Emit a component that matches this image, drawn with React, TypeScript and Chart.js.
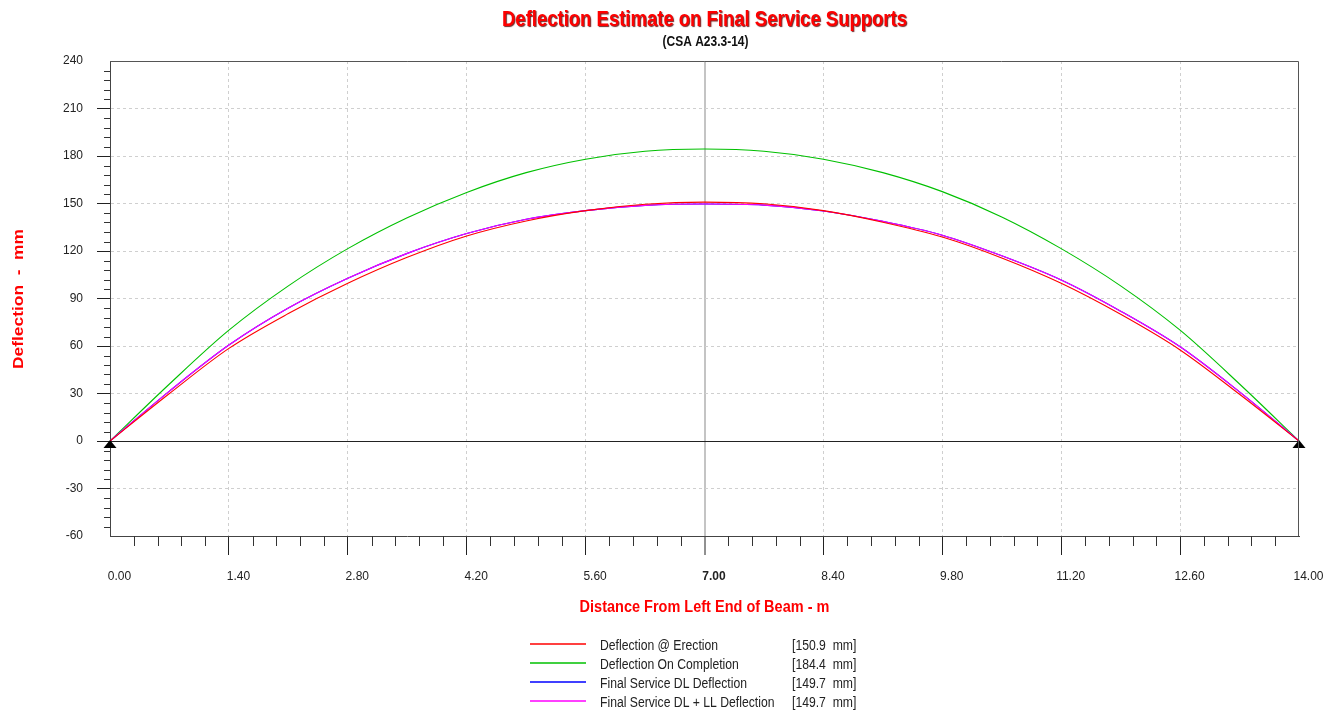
import React, { useEffect, useRef } from 'react';
import { Chart, registerables } from 'chart.js';

Chart.register(...registerables);

const FONT = '"Liberation Sans", Arial, sans-serif';

// Stations along the beam (m)
const stations = [0, 0.7, 1.4, 2.1, 2.8, 3.5, 4.2, 4.9, 5.6, 6.3, 7.0, 7.7, 8.4, 9.1, 9.8, 10.5, 11.2, 11.9, 12.6, 13.3, 14.0];

// Deflections (mm)
const erection = [0, 30, 58.5, 80.5, 99.6, 116, 129.5, 139, 145.5, 149.5, 150.9, 149.8, 145.5, 138.2, 128.8, 115.6, 99.6, 80, 57.5, 29.5, 0];
const completion = [0, 36, 70, 98, 121.5, 141, 157, 169.5, 178, 183, 184.4, 183, 178, 169.5, 157.5, 141.5, 121.5, 98, 70, 36, 0];
const finalDL = [0, 31.5, 60.6, 84, 102.8, 118.5, 131, 140, 145.5, 148.8, 149.7, 149, 145.3, 138.7, 130, 117, 101.7, 82, 59.5, 31, 0];
const finalDLLL = [0, 31.5, 60.6, 84, 102.8, 118.5, 131, 140, 145.5, 148.8, 149.7, 149, 145.3, 138.7, 130, 117, 101.7, 82, 59.5, 31, 0];

const seriesLabels = ['Deflection @ Erection', 'Deflection On Completion', 'Final Service DL Deflection', 'Final Service DL + LL Deflection'];
const seriesMaxLabels = ['[150.9  mm]', '[184.4  mm]', '[149.7  mm]', '[149.7  mm]'];
const seriesColors = ['#ff0000', '#00c000', '#0000ff', '#ff00ff'];

const xTickValues = [0, 1.4, 2.8, 4.2, 5.6, 7.0, 8.4, 9.8, 11.2, 12.6, 14.0];
const xTickLabels = ['0.00', '1.40', '2.80', '4.20', '5.60', '7.00', '8.40', '9.80', '11.20', '12.60', '14.00'];
const yTickValues = [-60, -30, 0, 30, 60, 90, 120, 150, 180, 210, 240];
const yTickLabels = ['-60', '-30', '0', '30', '60', '90', '120', '150', '180', '210', '240'];
const supports = [0, 14];

const titleText = 'Deflection Estimate on Final Service Supports';
const subtitleText = '(CSA A23.3-14)';
const xAxisTitle = 'Distance From Left End of Beam - m';
const yAxisTitle = 'Deflection  -  mm';

const MINOR_DIV = 5;
const TEXT_SY = 1.17;

function drawText(ctx: CanvasRenderingContext2D, text: string, x: number, y: number, o: any) {
  ctx.save();
  ctx.translate(x, y);
  if (o.rot) ctx.rotate(o.rot);
  ctx.scale(o.sx ?? 1, o.sy ?? 1);
  ctx.font = o.font;
  ctx.fillStyle = o.color;
  ctx.textAlign = o.align ?? 'left';
  ctx.textBaseline = 'alphabetic';
  if (o.shadow) {
    ctx.shadowColor = o.shadow;
    ctx.shadowOffsetX = 1;
    ctx.shadowOffsetY = 1;
    ctx.shadowBlur = 1;
  }
  ctx.fillText(text, 0, 0);
  ctx.restore();
}

const decorPlugin = {
  id: 'decor',
  afterDatasetsDraw(chart: any) {
    const { ctx, scales } = chart;
    ctx.save();
    ctx.fillStyle = '#000';
    supports.forEach((s) => {
      const px = scales.x.getPixelForValue(s);
      const py = scales.y.getPixelForValue(0);
      ctx.beginPath();
      ctx.moveTo(px, py - 1);
      ctx.lineTo(px - 6.5, py + 7);
      ctx.lineTo(px + 6.5, py + 7);
      ctx.closePath();
      ctx.fill();
    });
    ctx.restore();
  },
  afterDraw(chart: any) {
    const { ctx, chartArea: a, scales } = chart;
    const xs = scales.x;
    const ys = scales.y;
    ctx.save();
    // top and right frame
    ctx.strokeStyle = '#555';
    ctx.lineWidth = 1;
    ctx.beginPath();
    const top = Math.round(a.top) + 0.5;
    const right = Math.round(a.right) - 0.5;
    ctx.moveTo(a.left, top);
    ctx.lineTo(right, top);
    ctx.lineTo(right, a.bottom);
    ctx.stroke();

    // minor ticks
    ctx.strokeStyle = '#333';
    ctx.beginPath();
    for (let i = 0; i < xTickValues.length - 1; i++) {
      const v0 = xTickValues[i];
      const v1 = xTickValues[i + 1];
      for (let j = 1; j < MINOR_DIV; j++) {
        const px = Math.round(xs.getPixelForValue(v0 + ((v1 - v0) * j) / MINOR_DIV)) + 0.5;
        ctx.moveTo(px, a.bottom);
        ctx.lineTo(px, a.bottom + 10);
      }
    }
    for (let i = 0; i < yTickValues.length - 1; i++) {
      const v0 = yTickValues[i];
      const v1 = yTickValues[i + 1];
      for (let j = 1; j < MINOR_DIV; j++) {
        const py = Math.round(ys.getPixelForValue(v0 + ((v1 - v0) * j) / MINOR_DIV)) + 0.5;
        ctx.moveTo(a.left - 6, py);
        ctx.lineTo(a.left, py);
      }
    }
    ctx.stroke();
    ctx.restore();

    const cx = (a.left + a.right) / 2;
    // titles
    drawText(ctx, titleText, cx, 26, { font: `bold 18.5px ${FONT}`, color: '#ff0000', align: 'center', sy: 1.18, shadow: 'rgba(90,0,0,0.85)' });
    drawText(ctx, subtitleText, cx + 1, 45.5, { font: `bold 12px ${FONT}`, color: '#111', align: 'center', sy: 1.15 });
    drawText(ctx, xAxisTitle, cx, 611.5, { font: `bold 14.5px ${FONT}`, color: '#ff0000', align: 'center', sy: TEXT_SY });
    drawText(ctx, yAxisTitle, 22.5, (a.top + a.bottom) / 2 + 0.5, { font: `bold 14px ${FONT}`, color: '#ff0000', align: 'center', rot: -Math.PI / 2, sx: 1.24 });

    // legend
    seriesLabels.forEach((lab, i) => {
      const ly = 644 + i * 19;
      ctx.save();
      ctx.strokeStyle = seriesColors[i];
      ctx.lineWidth = 1.5;
      ctx.beginPath();
      ctx.moveTo(530, ly);
      ctx.lineTo(586, ly);
      ctx.stroke();
      ctx.restore();
      drawText(ctx, lab, 600, ly + 6, { font: `12.2px ${FONT}`, color: '#222', sy: TEXT_SY });
      drawText(ctx, seriesMaxLabels[i], 792, ly + 6, { font: `12.2px ${FONT}`, color: '#222', sy: TEXT_SY });
    });
  },
};

const toXY = (vals: number[]) => stations.map((x, i) => ({ x, y: vals[i] }));

export default function App() {
  const ref = useRef<HTMLCanvasElement | null>(null);
  useEffect(() => {
    if (!ref.current) return;
    const series = [erection, completion, finalDL, finalDLLL];
    const orders = [0, 3, 2, 1];
    const chart = new Chart(ref.current, {
      type: 'line',
      data: {
        datasets: series.map((vals, i) => ({
          label: seriesLabels[i],
          data: toXY(vals),
          borderColor: seriesColors[i],
          backgroundColor: seriesColors[i],
          borderWidth: 1.1,
          pointRadius: 0,
          fill: false,
          cubicInterpolationMode: 'monotone' as const,
          order: orders[i],
        })),
      },
      options: {
        responsive: false,
        animation: false,
        layout: { padding: { left: 50, right: 41, top: 61, bottom: 114 } },
        plugins: {
          legend: { display: false },
          title: { display: false },
          tooltip: { enabled: false },
        },
        scales: {
          x: {
            type: 'linear',
            position: 'bottom',
            min: 0,
            max: 14,
            afterBuildTicks: (s: any) => {
              s.ticks = xTickValues.map((v) => ({ value: v }));
            },
            afterFit: (s: any) => {
              s.height = 60;
            },
            ticks: {
              autoSkip: false,
              maxRotation: 0,
              padding: 14,
              labelOffset: 9.5,
              color: '#222',
              font: (c: any) => ({ family: FONT, size: 12, weight: c.tick && c.tick.value === 7 ? 'bold' : 'normal' }),
              callback: (v: any) => {
                const k = xTickValues.indexOf(Number(v));
                return k >= 0 ? xTickLabels[k] : '';
              },
            },
            grid: {
              color: (c: any) => {
                const v = c.tick ? c.tick.value : null;
                if (v === 7) return '#c4c4c4';
                if (v === 0 || v === 14) return 'rgba(0,0,0,0)';
                return '#cfcfcf';
              },
              lineWidth: (c: any) => (c.tick && c.tick.value === 7 ? 2 : 1),
              tickLength: 19,
              tickColor: (c: any) => {
                const v = c.tick ? c.tick.value : null;
                return v === 0 || v === 14 ? 'rgba(0,0,0,0)' : '#222';
              },
              tickWidth: 1,
            },
            border: {
              display: true,
              color: '#444',
              width: 1,
              dash: (c: any) => (c.tick && c.tick.value !== 7 ? [3, 3] : []),
            },
          },
          y: {
            type: 'linear',
            min: -60,
            max: 240,
            afterBuildTicks: (s: any) => {
              s.ticks = yTickValues.map((v) => ({ value: v }));
            },
            afterFit: (s: any) => {
              s.width = 60;
            },
            ticks: {
              autoSkip: false,
              padding: 14,
              color: '#222',
              font: { family: FONT, size: 12 },
              callback: (v: any) => {
                const k = yTickValues.indexOf(Number(v));
                return k >= 0 ? yTickLabels[k] : '';
              },
            },
            grid: {
              color: (c: any) => {
                const v = c.tick ? c.tick.value : null;
                if (v === 0) return '#222';
                if (v === -60 || v === 240) return 'rgba(0,0,0,0)';
                return '#cfcfcf';
              },
              lineWidth: 1,
              tickLength: 13,
              tickColor: (c: any) => {
                const v = c.tick ? c.tick.value : null;
                return v === -60 || v === 240 ? 'rgba(0,0,0,0)' : '#222';
              },
              tickWidth: 1,
            },
            border: {
              display: true,
              color: '#444',
              width: 1,
              dash: (c: any) => (c.tick && c.tick.value !== 0 ? [3, 3] : []),
            },
          },
        },
      },
      plugins: [decorPlugin],
    } as any);
    return () => chart.destroy();
  }, []);

  return (
    <div style={{ position: 'absolute', left: 0, top: 0, width: 1340, height: 710, background: '#fff' }}>
      <canvas ref={ref} width={1340} height={710} style={{ display: 'block' }} />
    </div>
  );
}
